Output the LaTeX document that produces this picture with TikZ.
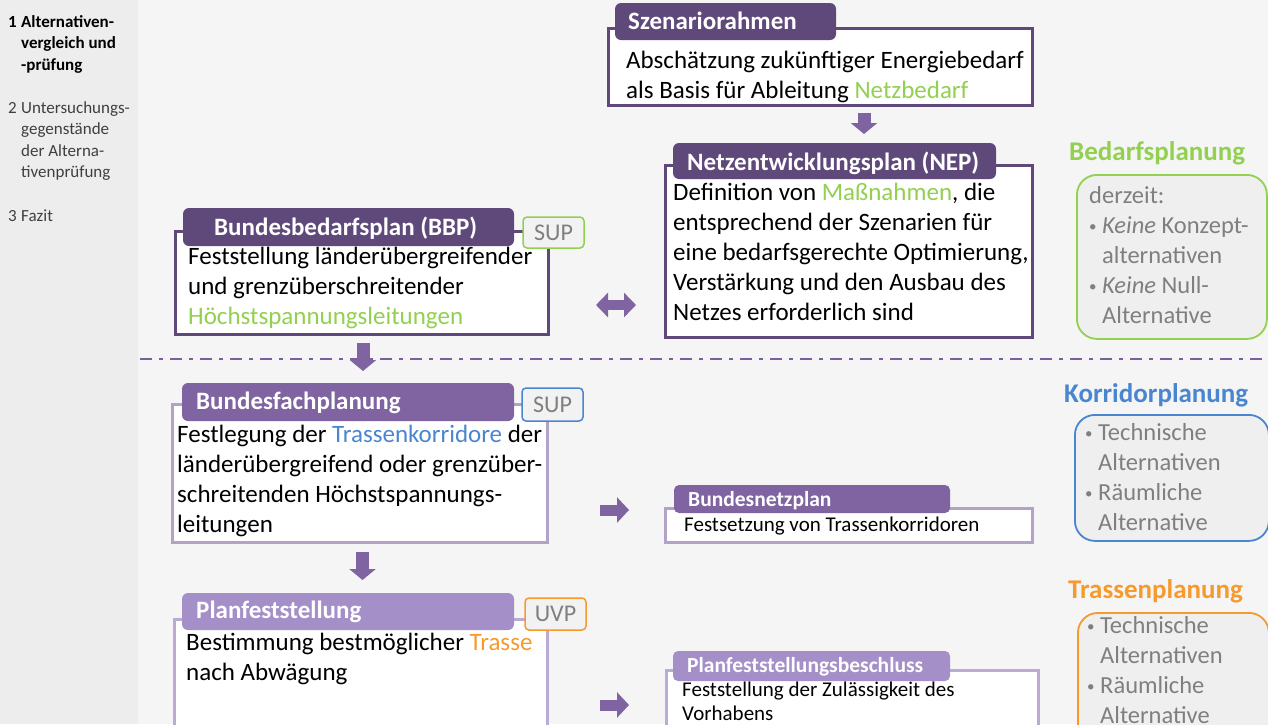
\documentclass[tikz,border=0pt]{standalone}
\usepackage{fontspec}
\setmainfont{Carlito}
\usetikzlibrary{arrows.meta}
\definecolor{dpurple}{HTML}{5F497A}
\definecolor{mpurple}{HTML}{8064A2}
\definecolor{lpurple}{HTML}{A58FC9}
\definecolor{mborder}{HTML}{B3A2C7}
\definecolor{lborder}{HTML}{BBAAD5}
\definecolor{arrowc}{HTML}{8064A2}
\definecolor{sepc}{HTML}{7A5E9E}
\definecolor{grn}{HTML}{92D050}
\definecolor{blu}{HTML}{4A86D0}
\definecolor{org}{HTML}{F79A2E}
\definecolor{gtxt}{HTML}{7F7F7F}
\definecolor{stxt}{HTML}{3F3F3F}
\definecolor{bgmain}{HTML}{F5F5F5}
\definecolor{bgside}{HTML}{EDEDED}
\definecolor{tagfill}{HTML}{F2F2F2}
\definecolor{rfill}{HTML}{EFEFEF}
\newcommand{\tp}{\rule{0pt}{0.9em}}
\newcommand{\bul}{\makebox[13pt][l]{\fontsize{15}{15}\selectfont\raisebox{2pt}{\textbullet}}}
\newcommand{\ind}{\hspace*{13pt}}
\begin{document}
\begin{tikzpicture}[x=1pt,y=-1pt,
  box/.style={draw, line width=3pt, fill=white, anchor=north west, inner sep=0pt, outer sep=0pt},
  tab/.style={rounded corners=6pt, anchor=north west, inner sep=0pt, outer sep=0pt},
  tagbox/.style={draw, rounded corners=4pt, fill=tagfill, line width=1.5pt, minimum width=61pt, minimum height=31pt, inner sep=0pt, text=gtxt, font=\fontsize{24}{24}\selectfont},
  ttl/.style={anchor=base west, inner sep=0pt, text=white, font=\fontsize{25}{30}\selectfont\bfseries},
  sttl/.style={anchor=base west, inner sep=0pt, text=white, font=\fontsize{21.5}{24}\selectfont\bfseries},
  body/.style={anchor=north west, inner sep=0pt, align=left, font=\fontsize{25}{30}\selectfont},
  sbody/.style={anchor=north west, inner sep=0pt, align=left, font=\fontsize{21}{24}\selectfont},
  side/.style={anchor=north west, inner sep=0pt, align=left, font=\fontsize{17}{21.5}\selectfont},
  rtitle/.style={anchor=base west, inner sep=0pt, font=\fontsize{27}{30}\selectfont\bfseries},
  rbox/.style={draw, line width=1.8pt, rounded corners=20pt, fill=rfill, anchor=north west, inner sep=0pt},
  rtext/.style={anchor=north west, inner sep=0pt, align=left, text=gtxt, font=\fontsize{24.5}{30}\selectfont},
  downarrow/.style={arrowc, line width=13pt, -{Triangle[width=26pt,length=11pt]}},
  rightarrow/.style={arrowc, line width=11pt, -{Triangle[width=25pt,length=12pt]}},
  dblarrow/.style={arrowc, line width=10pt, {Triangle[width=24pt,length=12pt]}-{Triangle[width=24pt,length=12pt]}},
  sepline/.style={sepc, line width=2.5pt, dash pattern=on 12pt off 7pt on 4pt off 7pt}
]
\useasboundingbox (0,0) rectangle (1268,724);
\clip (0,0) rectangle (1268,724);
% background
\fill[bgmain] (0,0) rectangle (1268,724);
\fill[bgside] (0,0) rectangle (138,724);

% sidebar
\node[side, font=\fontsize{17}{21.5}\selectfont\bfseries] (s1) at (8,11.7) {\tp\makebox[13pt][l]{1}Alternativen-\\\ind vergleich und\\\ind -prüfung};
\node[side, text=stxt] (s2) at (8,97.7) {\tp\makebox[13pt][l]{2}Untersuchungs-\\\ind gegenstände\\\ind der Alterna-\\\ind tivenprüfung};
\node[side, text=stxt] (s3) at (8,205.7) {\tp\makebox[13pt][l]{3}Fazit};

% separator
\coordinate (sepL) at (140,359);
\coordinate (sepR) at (1268,359);
\draw[sepline] (sepL) -- (sepR);

% Szenariorahmen
\node[box, draw=dpurple, minimum width=424pt, minimum height=77pt] (sz) at (608,28) {};
\node[tab, fill=dpurple, minimum width=221pt, minimum height=37pt] (szh) at (615,3) {};
\node[ttl] (szt) at (628,29) {Szenariorahmen};
\node[body] (szx) at (626,45.5) {\tp Abschätzung zukünftiger Energiebedarf\\als Basis für Ableitung \textcolor{grn}{Netzbedarf}};

% NEP
\node[box, draw=dpurple, minimum width=367pt, minimum height=172pt] (nep) at (665,165) {};
\node[tab, fill=dpurple, minimum width=323pt, minimum height=36pt] (neph) at (673,143) {};
\node[ttl] (nept) at (687,170) {Netzentwicklungsplan (NEP)};
\node[body] (nepx) at (673,177.5) {\tp Definition von \textcolor{grn}{Maßnahmen}, die\\entsprechend der Szenarien für\\eine bedarfsgerechte Optimierung,\\Verstärkung und den Ausbau des\\Netzes erforderlich sind};

% BBP
\node[box, draw=dpurple, minimum width=373pt, minimum height=103pt] (bbp) at (175,231) {};
\node[tab, fill=dpurple, minimum width=331pt, minimum height=38pt] (bbph) at (183,208) {};
\node[ttl] (bbpt) at (214,235) {Bundesbedarfsplan (BBP)};
\node[body] (bbpx) at (188,241.5) {\tp Feststellung länderübergreifender\\und grenzüberschreitender\\\textcolor{grn}{Höchstspannungsleitungen}};
\node[tagbox, draw=grn] (sup1) at (553.5,232.5) {SUP};

% Bundesfachplanung
\node[box, draw=mborder, minimum width=375pt, minimum height=138pt] (bfp) at (172,404) {};
\node[tab, fill=mpurple, minimum width=332pt, minimum height=38pt] (bfph) at (182,383) {};
\node[ttl] (bfpt) at (196,409) {Bundesfachplanung};
\node[body] (bfpx) at (177,419.5) {\tp Festlegung der \textcolor{blu}{Trassenkorridore} der\\länderübergreifend oder grenzüber-\\schreitenden Höchstspannungs-\\leitungen};
\node[tagbox, draw=blu, minimum height=33pt] (sup2) at (552.5,404.5) {SUP};

% Planfeststellung
\node[box, draw=lborder, minimum width=373pt, minimum height=150pt] (pf) at (174,619) {};
\node[tab, fill=lpurple, minimum width=332pt, minimum height=37pt] (pfh) at (182,593) {};
\node[ttl] (pft) at (196,618) {Planfeststellung};
\node[body] (pfx) at (186,627.5) {\tp Bestimmung bestmöglicher \textcolor{org}{Trasse}\\nach Abwägung};
\node[tagbox, draw=org, minimum height=32pt] (uvp) at (555.5,614) {UVP};

% Bundesnetzplan
\node[box, draw=mborder, minimum width=367pt, minimum height=34pt] (bnp) at (665,508) {};
\node[tab, fill=mpurple, rounded corners=5pt, minimum width=276pt, minimum height=28pt] (bnph) at (674,485) {};
\node[sttl] (bnpt) at (688,506) {Bundesnetzplan};
\node[sbody, anchor=base west] (bnpx) at (684,531) {Festsetzung von Trassenkorridoren};

% Planfeststellungsbeschluss
\node[box, draw=lborder, minimum width=372pt, minimum height=100pt] (pfb) at (666,670) {};
\node[tab, fill=lpurple, rounded corners=5pt, minimum width=277pt, minimum height=30pt] (pfbh) at (673,651) {};
\node[sttl] (pfbt) at (687,672) {Planfeststellungsbeschluss};
\node[sbody] (pfbx) at (682,677.1) {\tp Feststellung der Zulässigkeit des\\Vorhabens};

% arrows
\coordinate (a1s) at (864,113); \coordinate (a1e) at (864,134);
\draw[downarrow] (a1s) -- (a1e);
\coordinate (a2s) at (363,343); \coordinate (a2e) at (363,371);
\draw[downarrow] (a2s) -- (a2e);
\coordinate (a3s) at (362.5,552); \coordinate (a3e) at (362.5,580);
\draw[downarrow] (a3s) -- (a3e);
\coordinate (a4s) at (600,510); \coordinate (a4e) at (629,510);
\draw[rightarrow] (a4s) -- (a4e);
\coordinate (a5s) at (600,705); \coordinate (a5e) at (629,705);
\draw[rightarrow] (a5s) -- (a5e);
\coordinate (d1) at (596,305); \coordinate (d2) at (636,305);
\draw[dblarrow] (d1) -- (d2);

% right side
\node[rtitle, text=grn] (bedt) at (1069,160) {Bedarfsplanung};
\node[rbox, draw=grn, minimum width=190pt, minimum height=164pt] (bedb) at (1076,174) {};
\node[rtext] (bedx) at (1089,180.95) {\tp derzeit:\\\bul\textit{Keine} Konzept-\\\ind alternativen\\\bul\textit{Keine} Null-\\\ind Alternative};

\node[rtitle, text=blu] (kort) at (1064,402) {Korridorplanung};
\node[rbox, draw=blu, minimum width=194pt, minimum height=126pt] (korb) at (1074,414) {};
\node[rtext] (korx) at (1085,417.95) {\tp\bul Technische\\\ind Alternativen\\\bul Räumliche\\\ind Alternative};

\node[rtitle, text=org] (trt) at (1068,598) {Trassenplanung};
\node[rbox, draw=org, minimum width=191pt, minimum height=150pt] (trb) at (1077,612) {};
\node[rtext] (trx) at (1087,610.95) {\tp\bul Technische\\\ind Alternativen\\\bul Räumliche\\\ind Alternative};
\end{tikzpicture}
\end{document}
